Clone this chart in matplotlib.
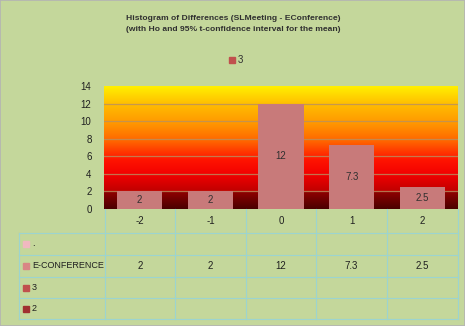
import matplotlib
matplotlib.use("Agg")
import matplotlib.pyplot as plt
import numpy as np
from matplotlib.colors import LinearSegmentedColormap
from matplotlib.lines import Line2D
from matplotlib.patches import Rectangle

categories = ["-2", "-1", "0", "1", "2"]
econference = [2, 2, 12, 7.3, 2.5]
value_labels = ["2", "2", "12", "7.3", "2.5"]
yticks = [0, 2, 4, 6, 8, 10, 12, 14]
table_rows = [".", "E-CONFERENCE", "3", "2"]
title = "Histogram of Differences (SLMeeting - EConference)\n(with Ho and 95% t-confidence interval for the mean)"
legend_label = "3"

FONT = ["Liberation Sans Narrow", "Liberation Sans", "DejaVu Sans"]
plt.rcParams['font.family'] = FONT

W, H = 465, 326
BG = "#c4d79b"
fig = plt.figure(figsize=(W / 100, H / 100), dpi=100, facecolor=BG)

def fx(px):
    return px / W

def fy(py):
    return 1 - py / H

x0, x1, y0, y1 = 104, 458, 209, 86
ax = fig.add_axes([fx(x0), fy(y0), fx(x1) - fx(x0), fy(y1) - fy(y0)])
ax.set_xlim(-0.5, len(categories) - 0.5)
ax.set_ylim(0, 14)

# gradient background
cmap = LinearSegmentedColormap.from_list("bg", [
    (0.0, "#4a0000"), (0.14, "#900000"), (0.145, "#c00000"), (0.28, "#f20000"),
    (0.40, "#ff1400"), (0.55, "#ff6400"), (0.70, "#ff9800"), (0.85, "#ffbc00"),
    (1.0, "#fff000")])
grad = np.linspace(0, 1, 256).reshape(-1, 1)
ax.imshow(grad, aspect="auto", cmap=cmap, origin="lower",
          extent=[-0.5, len(categories) - 0.5, 0, 14], zorder=0)
for t in yticks[1:-1]:
    ax.axhline(t, color="#b89060", lw=0.9, alpha=0.8, zorder=1)

xs = np.arange(len(categories))
bars = ax.bar(xs, econference, width=0.64, color="#c87a7a", zorder=2)
for b, lab in zip(bars, value_labels):
    ax.text(b.get_x() + b.get_width() / 2, b.get_height() / 2, lab,
            ha="center", va="center", fontsize=7, color="#303030", zorder=3)

ax.set_yticks(yticks)
ax.set_yticklabels([str(t) for t in yticks], fontsize=7, color="#202020")
ax.set_xticks([])
ax.tick_params(axis="y", length=0, pad=9)
for s in ax.spines.values():
    s.set_visible(False)

# title
fig.text(fx(233), fy(24), title, ha="center", va="center", fontsize=6.1,
         fontweight="bold", color="#303030", linespacing=1.7)

# legend
fig.patches.append(Rectangle((fx(229), fy(63)), 6 / W, 6 / H,
                             transform=fig.transFigure, color="#c0504d"))
fig.text(fx(238), fy(60), legend_label, ha="left", va="center", fontsize=7, color="#303030")

# data table
gc = "#9cd4d0"
col_edges = [105, 175, 246, 316, 387, 458]
row_edges = [233, 255, 277, 298, 319]
tl, hdr_top = 19, 209

def hline(py, xa, xb):
    fig.add_artist(Line2D([fx(xa), fx(xb)], [fy(py), fy(py)], color=gc, lw=0.8,
                          transform=fig.transFigure))

def vline(px, ya, yb):
    fig.add_artist(Line2D([fx(px), fx(px)], [fy(ya), fy(yb)], color=gc, lw=0.8,
                          transform=fig.transFigure))

for r in row_edges:
    hline(r, tl, col_edges[-1])
for c in col_edges:
    vline(c, hdr_top, row_edges[-1])
vline(tl, row_edges[0], row_edges[-1])

for i, cat in enumerate(categories):
    cx = (col_edges[i] + col_edges[i + 1]) / 2
    fig.text(fx(cx), fy(221), cat, ha="center", va="center", fontsize=7, color="#202020")

marker_colors = ["#f0b8c0", "#d98585", "#c0504d", "#a03030"]
for j, (name, mc) in enumerate(zip(table_rows, marker_colors)):
    cy = (row_edges[j] + row_edges[j + 1]) / 2
    fig.patches.append(Rectangle((fx(23), fy(cy + 3)), 6 / W, 6 / H,
                                 transform=fig.transFigure, color=mc))
    fig.text(fx(32), fy(cy), name, ha="left", va="center", fontsize=6.5, color="#202020")

econ_row = 1
cy = (row_edges[econ_row] + row_edges[econ_row + 1]) / 2
for i, v in enumerate(value_labels):
    cx = (col_edges[i] + col_edges[i + 1]) / 2
    fig.text(fx(cx), fy(cy), v, ha="center", va="center", fontsize=7, color="#202020")

# outer border
fig.add_artist(Rectangle((0, 0), 1, 1, transform=fig.transFigure, fill=False,
                         edgecolor="#b4b4b4", lw=1.2))

fig.savefig("out.png", dpi=100, facecolor=BG)
